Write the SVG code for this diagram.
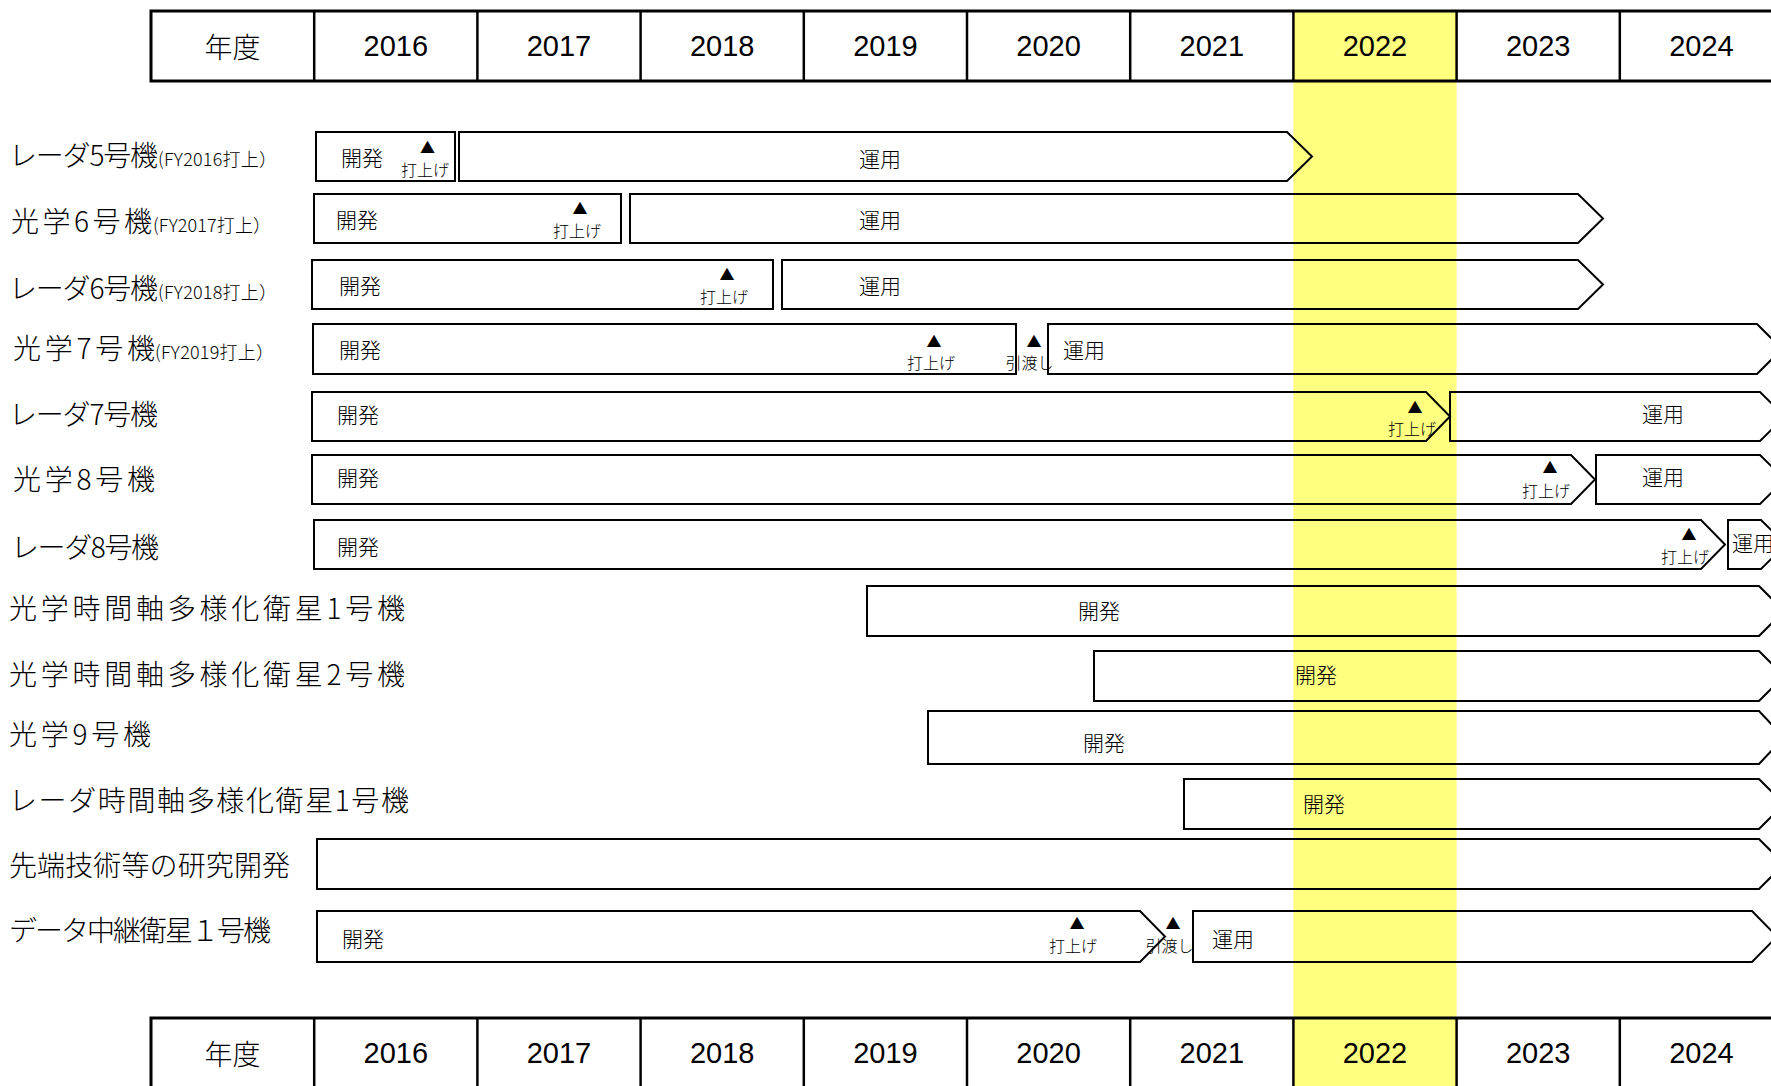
<svg xmlns="http://www.w3.org/2000/svg" width="1771" height="1086" viewBox="0 0 1771 1086">
<style>
.bg{fill:#ffffff}
.band{fill:#FFFF80}
.hdr{fill:none;stroke:#000;stroke-width:3}
.vl{stroke:#000;stroke-width:2.5}
.bar{fill:none;stroke:#000;stroke-width:2}
.yr{font-family:"Liberation Sans",Arial,sans-serif;font-size:29px;text-anchor:middle;dominant-baseline:central;fill:#000}
.yj{font-family:"Noto Sans CJK JP","Noto Sans",sans-serif;font-size:28px;font-weight:300;text-anchor:middle;dominant-baseline:central;fill:#000}
.lbl{font-family:"Noto Sans CJK JP","Noto Sans",sans-serif;font-size:28px;font-weight:300;fill:#000}
.sub{font-family:"Noto Sans CJK JP","Noto Sans",sans-serif;font-size:18px;font-weight:300;fill:#000}
.t{font-family:"Noto Sans CJK JP","Noto Sans",sans-serif;font-size:21px;font-weight:300;text-anchor:middle;dominant-baseline:central;fill:#000}
.ts{font-family:"Noto Sans CJK JP","Noto Sans",sans-serif;font-size:16px;font-weight:300;text-anchor:middle;dominant-baseline:central;fill:#000}
.tri{font-family:"Noto Sans CJK JP","DejaVu Sans",sans-serif;font-size:15px;text-anchor:middle;dominant-baseline:central;fill:#000}
</style>
<rect class="bg" x="0" y="0" width="1771" height="1086"/>
<rect class="band" x="1293.4" y="11" width="163.2" height="1075"/>

<g id="header-top">
<rect class="hdr" x="151" y="11" width="1660" height="70"/>
<line class="vl" x1="314.2" y1="11" x2="314.2" y2="81"/>
<line class="vl" x1="477.4" y1="11" x2="477.4" y2="81"/>
<line class="vl" x1="640.6" y1="11" x2="640.6" y2="81"/>
<line class="vl" x1="803.8" y1="11" x2="803.8" y2="81"/>
<line class="vl" x1="967" y1="11" x2="967" y2="81"/>
<line class="vl" x1="1130.2" y1="11" x2="1130.2" y2="81"/>
<line class="vl" x1="1293.4" y1="11" x2="1293.4" y2="81"/>
<line class="vl" x1="1456.6" y1="11" x2="1456.6" y2="81"/>
<line class="vl" x1="1619.8" y1="11" x2="1619.8" y2="81"/>
<text class="yj" x="232.6" y="46">年度</text>
<text class="yr" x="395.8" y="46">2016</text>
<text class="yr" x="559" y="46">2017</text>
<text class="yr" x="722.2" y="46">2018</text>
<text class="yr" x="885.4" y="46">2019</text>
<text class="yr" x="1048.6" y="46">2020</text>
<text class="yr" x="1211.8" y="46">2021</text>
<text class="yr" x="1375" y="46">2022</text>
<text class="yr" x="1538.2" y="46">2023</text>
<text class="yr" x="1701.4" y="46">2024</text>
</g>

<g id="header-bottom">
<rect class="hdr" x="151" y="1018" width="1660" height="70"/>
<line class="vl" x1="314.2" y1="1018" x2="314.2" y2="1088"/>
<line class="vl" x1="477.4" y1="1018" x2="477.4" y2="1088"/>
<line class="vl" x1="640.6" y1="1018" x2="640.6" y2="1088"/>
<line class="vl" x1="803.8" y1="1018" x2="803.8" y2="1088"/>
<line class="vl" x1="967" y1="1018" x2="967" y2="1088"/>
<line class="vl" x1="1130.2" y1="1018" x2="1130.2" y2="1088"/>
<line class="vl" x1="1293.4" y1="1018" x2="1293.4" y2="1088"/>
<line class="vl" x1="1456.6" y1="1018" x2="1456.6" y2="1088"/>
<line class="vl" x1="1619.8" y1="1018" x2="1619.8" y2="1088"/>
<text class="yj" x="232.6" y="1053">年度</text>
<text class="yr" x="395.8" y="1053">2016</text>
<text class="yr" x="559" y="1053">2017</text>
<text class="yr" x="722.2" y="1053">2018</text>
<text class="yr" x="885.4" y="1053">2019</text>
<text class="yr" x="1048.6" y="1053">2020</text>
<text class="yr" x="1211.8" y="1053">2021</text>
<text class="yr" x="1375" y="1053">2022</text>
<text class="yr" x="1538.2" y="1053">2023</text>
<text class="yr" x="1701.4" y="1053">2024</text>
</g>

<g id="connectors"></g>

<g id="row-radar5">
<text class="lbl" x="9" y="166" textLength="149">レーダ5号機</text>
<text class="sub" x="158" y="166" textLength="119">(FY2016打上）</text>
<rect class="bar" x="316" y="132" width="139" height="49"/>
<path class="bar" d="M459 132 H1287 L1312 156.5 L1287 181 H459 Z"/>
<text class="t" x="362" y="157">開発</text>
<text class="tri" x="427.5" y="146.5">▲</text>
<text class="ts" x="425" y="168.5">打上げ</text>
<text class="t" x="880" y="158">運用</text>
</g>

<g id="row-optical6">
<text class="lbl" x="11" y="232" textLength="141">光学6号機</text>
<text class="sub" x="153" y="232" textLength="118">(FY2017打上）</text>
<rect class="bar" x="314" y="194" width="307" height="49"/>
<path class="bar" d="M630 194 H1578 L1603 218.5 L1578 243 H630 Z"/>
<text class="t" x="357" y="219">開発</text>
<text class="tri" x="580" y="207.5">▲</text>
<text class="ts" x="577" y="229.5">打上げ</text>
<text class="t" x="880" y="219">運用</text>
</g>

<g id="row-radar6">
<text class="lbl" x="9" y="299" textLength="149">レーダ6号機</text>
<text class="sub" x="158" y="299" textLength="119">(FY2018打上）</text>
<rect class="bar" x="312" y="260" width="461" height="49"/>
<path class="bar" d="M782 260 H1578 L1603 284.5 L1578 309 H782 Z"/>
<text class="t" x="360" y="285">開発</text>
<text class="tri" x="727" y="273">▲</text>
<text class="ts" x="724" y="295.5">打上げ</text>
<text class="t" x="880" y="285">運用</text>
</g>

<g id="row-optical7">
<text class="lbl" x="13" y="359" textLength="142">光学7号機</text>
<text class="sub" x="155" y="359" textLength="119">(FY2019打上）</text>
<rect class="bar" x="313" y="324" width="703" height="50"/>
<path class="bar" d="M1048 324 H1757 L1782 349 L1757 374 H1048 Z"/>
<text class="t" x="360" y="349">開発</text>
<text class="tri" x="934" y="340">▲</text>
<text class="ts" x="931" y="362">打上げ</text>
<text class="tri" x="1034" y="340">▲</text>
<text class="ts" x="1029.5" y="362">引渡し</text>
<text class="t" x="1084" y="349">運用</text>
</g>

<g id="row-radar7">
<text class="lbl" x="9" y="425" textLength="149">レーダ7号機</text>
<path class="bar" d="M312 392 H1426 L1450 416.5 L1426 441 H312 Z"/>
<path class="bar" d="M1450 392 H1760 L1785 416.5 L1760 441 H1450 Z"/>
<text class="t" x="358" y="414">開発</text>
<text class="tri" x="1415" y="406">▲</text>
<text class="ts" x="1412" y="428">打上げ</text>
<text class="t" x="1663" y="413">運用</text>
</g>

<g id="row-optical8">
<text class="lbl" x="13" y="490" textLength="142">光学8号機</text>
<path class="bar" d="M312 455 H1571 L1595 479.5 L1571 504 H312 Z"/>
<path class="bar" d="M1596 455 H1760 L1785 479.5 L1760 504 H1596 Z"/>
<text class="t" x="358" y="477">開発</text>
<text class="tri" x="1550" y="466.5">▲</text>
<text class="ts" x="1546" y="489.5">打上げ</text>
<text class="t" x="1663" y="476">運用</text>
</g>

<g id="row-radar8">
<text class="lbl" x="11" y="558" textLength="148">レーダ8号機</text>
<path class="bar" d="M314 520 H1701 L1725 544.5 L1701 569 H314 Z"/>
<path class="bar" d="M1728 520 H1761 L1786 544.5 L1761 569 H1728 Z"/>
<text class="t" x="358" y="546">開発</text>
<text class="tri" x="1689" y="533.5">▲</text>
<text class="ts" x="1685" y="555.5">打上げ</text>
<text class="t" x="1753" y="542">運用</text>
</g>

<g id="row-optical-tdiv1">
<text class="lbl" x="9" y="619" textLength="396">光学時間軸多様化衛星1号機</text>
<path class="bar" d="M867 586 H1759 L1784 611 L1759 636 H867 Z"/>
<text class="t" x="1099" y="610">開発</text>
</g>

<g id="row-optical-tdiv2">
<text class="lbl" x="9" y="685" textLength="396">光学時間軸多様化衛星2号機</text>
<path class="bar" d="M1094 651 H1759 L1784 676 L1759 701 H1094 Z"/>
<text class="t" x="1316" y="674">開発</text>
</g>

<g id="row-optical9">
<text class="lbl" x="9" y="745" textLength="142">光学9号機</text>
<path class="bar" d="M928 711 H1759 L1784 737.5 L1759 764 H928 Z"/>
<text class="t" x="1104" y="742">開発</text>
</g>

<g id="row-radar-tdiv1">
<text class="lbl" x="9" y="811" textLength="400">レーダ時間軸多様化衛星1号機</text>
<path class="bar" d="M1184 779 H1759 L1784 804 L1759 829 H1184 Z"/>
<text class="t" x="1324" y="803">開発</text>
</g>

<g id="row-advanced">
<text class="lbl" x="9" y="876" textLength="281">先端技術等の研究開発</text>
<path class="bar" d="M317 839 H1759 L1784 864 L1759 889 H317 Z"/>
</g>

<g id="row-relay1">
<text class="lbl" x="9" y="941" textLength="262">データ中継衛星１号機</text>
<path class="bar" d="M317 911 H1140 L1165 936.5 L1140 962 H317 Z"/>
<path class="bar" d="M1193 911 H1752 L1777 936.5 L1752 962 H1193 Z"/>
<text class="t" x="363" y="938">開発</text>
<text class="tri" x="1077" y="922.5">▲</text>
<text class="ts" x="1073" y="944.5">打上げ</text>
<text class="tri" x="1173" y="922.5">▲</text>
<text class="ts" x="1169.5" y="944.5">引渡し</text>
<text class="t" x="1233" y="938">運用</text>
</g>
</svg>
